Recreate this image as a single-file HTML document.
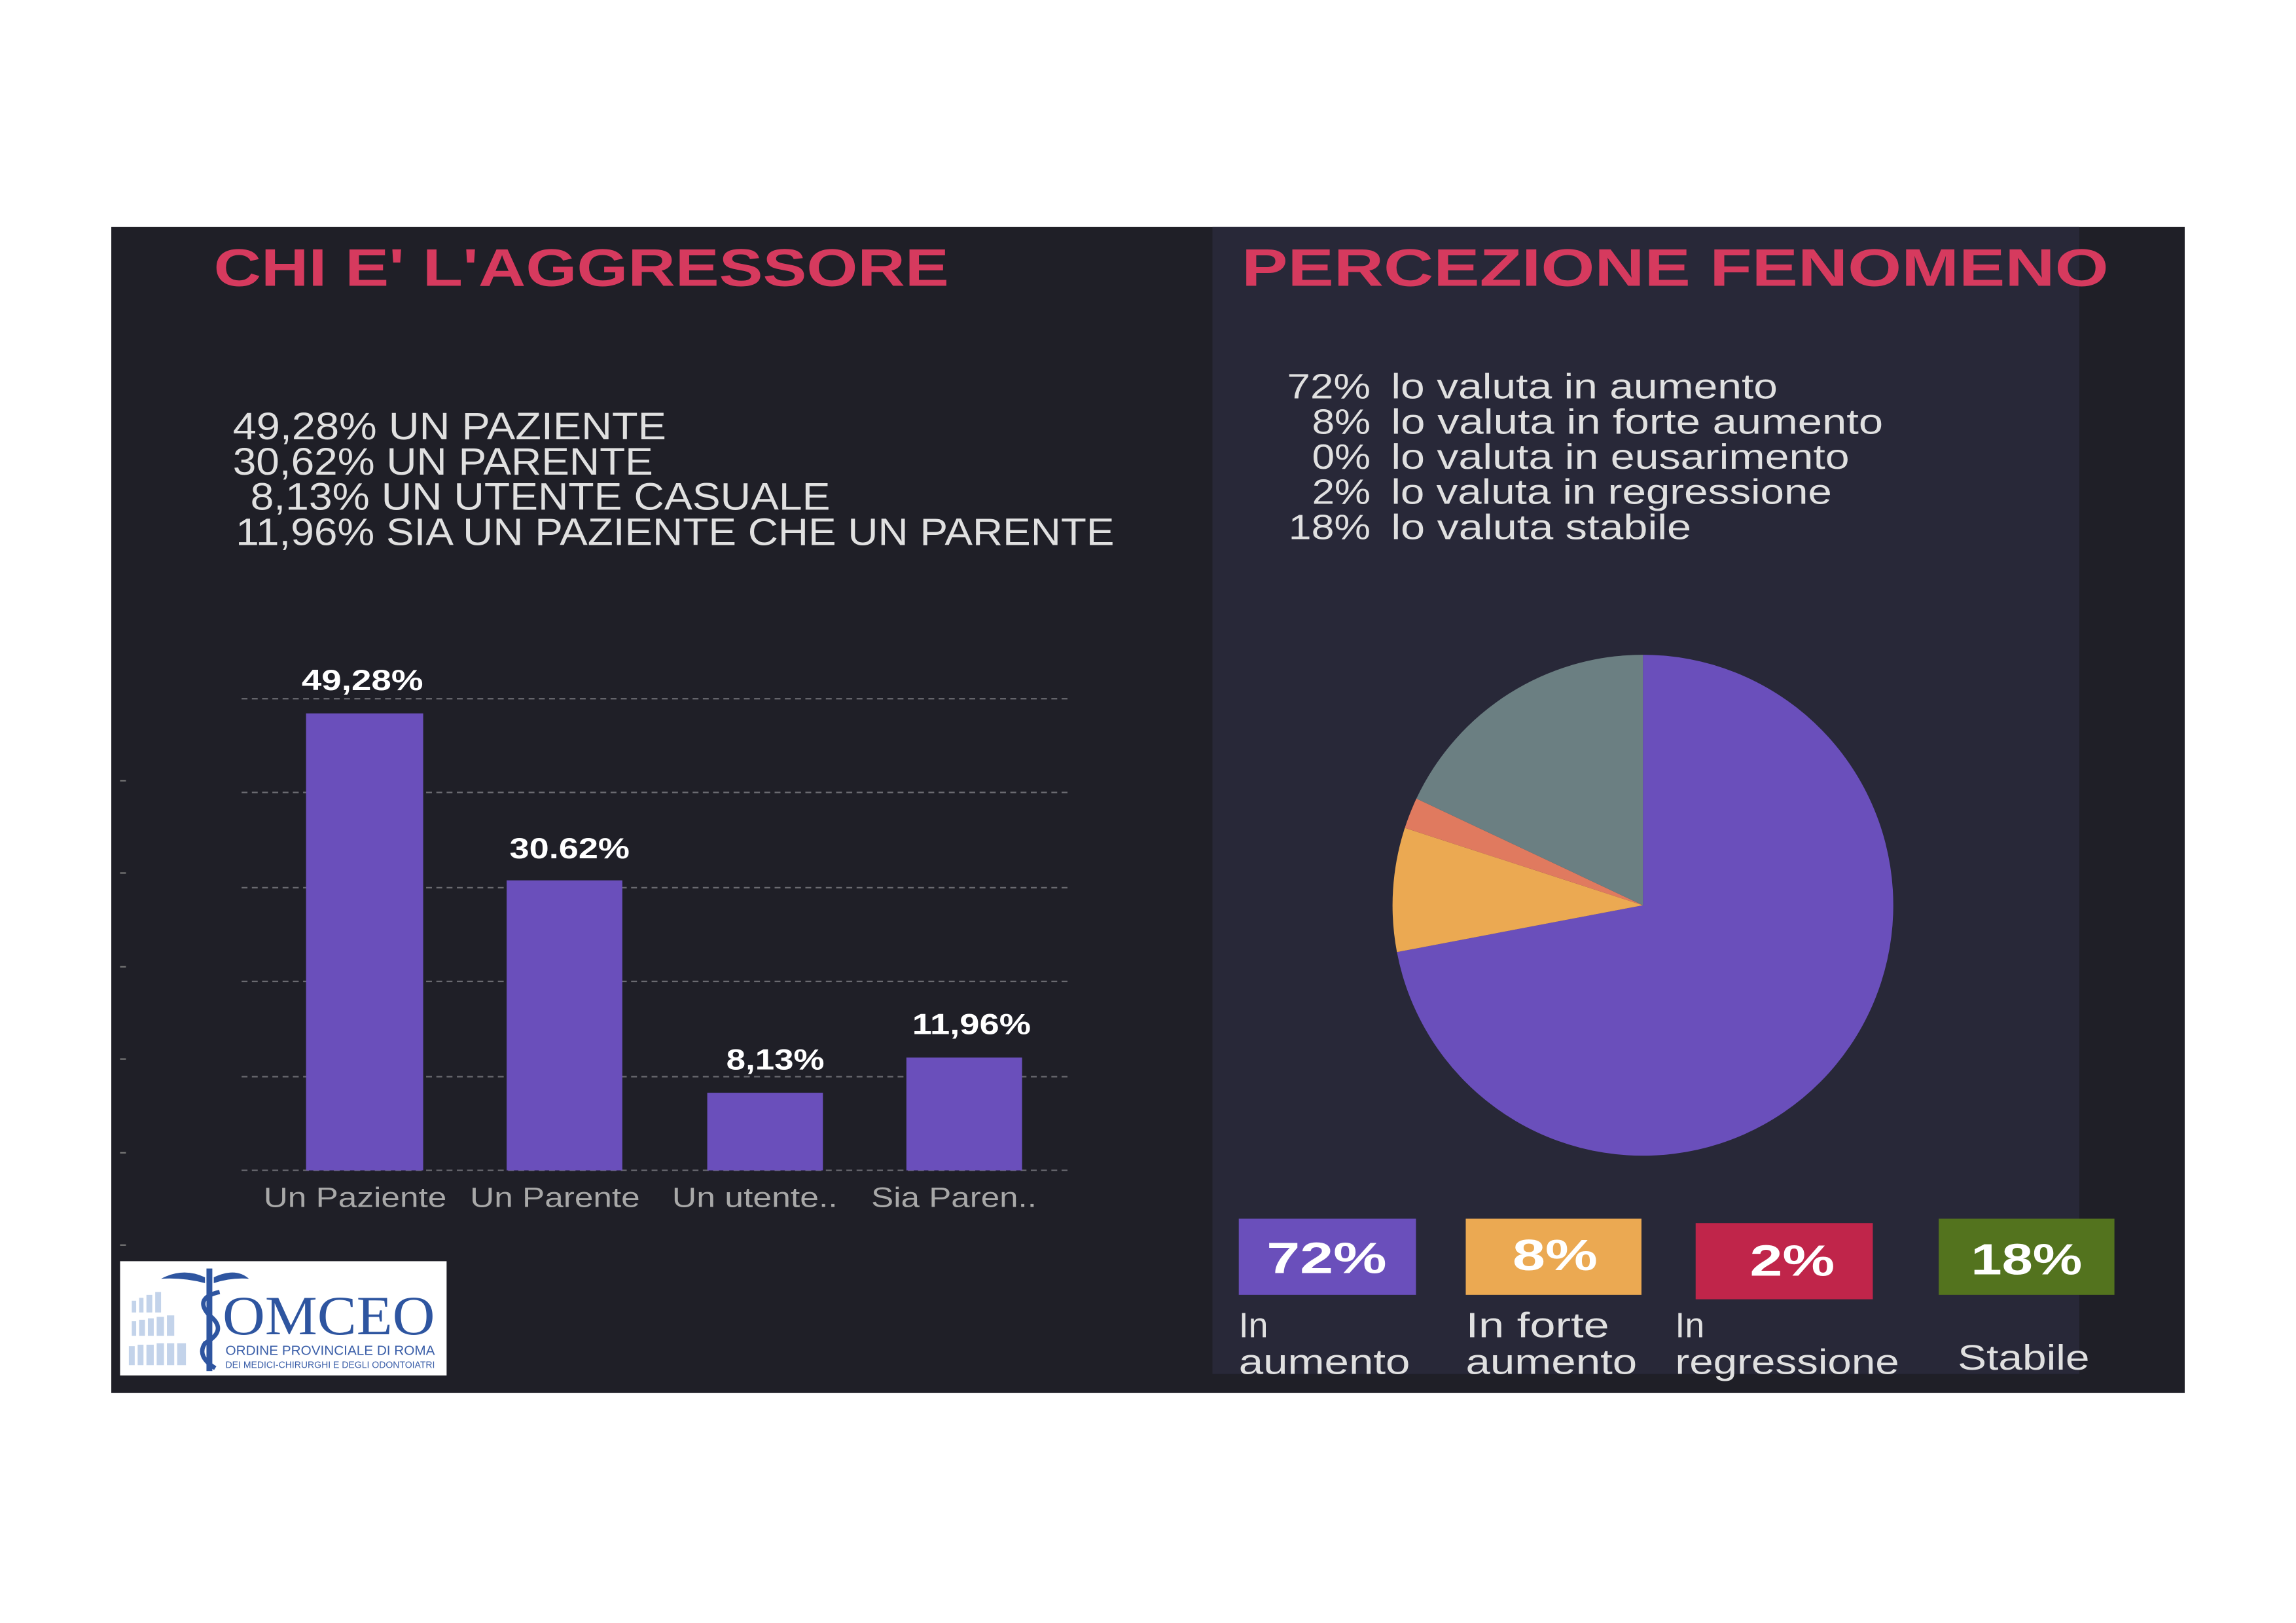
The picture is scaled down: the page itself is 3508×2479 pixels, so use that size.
<!DOCTYPE html>
<html><head><meta charset="utf-8"><style>html,body{margin:0;padding:0;background:#fff}svg{display:block}</style></head>
<body>
<svg width="3508" height="2479" viewBox="0 0 1568 1108" preserveAspectRatio="none" xmlns="http://www.w3.org/2000/svg" font-family="Liberation Sans, sans-serif">
<rect width="1568" height="1108" fill="#fff"/>
<rect x="76" y="155" width="1416" height="796" fill="#1f1f27"/>
<rect x="828" y="155" width="592" height="783" fill="#282838"/>
<text x="146" y="195" font-size="36" font-weight="bold" fill="#d63a5e" textLength="502" lengthAdjust="spacingAndGlyphs">CHI E' L'AGGRESSORE</text>
<text x="848" y="195" font-size="36" font-weight="bold" fill="#d63a5e" textLength="592" lengthAdjust="spacingAndGlyphs">PERCEZIONE FENOMENO</text>
<g font-size="26" fill="#e0e0e0">
<text x="159" y="300" textLength="296" lengthAdjust="spacingAndGlyphs">49,28% UN PAZIENTE</text>
<text x="159" y="324" textLength="287" lengthAdjust="spacingAndGlyphs">30,62% UN PARENTE</text>
<text x="171" y="348" textLength="396" lengthAdjust="spacingAndGlyphs">8,13%  UN UTENTE CASUALE</text>
<text x="161" y="372" textLength="600" lengthAdjust="spacingAndGlyphs">11,96% SIA UN PAZIENTE CHE UN PARENTE</text>
</g>
<g stroke="#6a6a70" stroke-width="1" stroke-dasharray="4,3">
<line x1="165" y1="477" x2="732" y2="477"/><line x1="165" y1="541" x2="732" y2="541"/>
<line x1="165" y1="606" x2="732" y2="606"/><line x1="165" y1="670" x2="732" y2="670"/>
<line x1="165" y1="735" x2="732" y2="735"/><line x1="165" y1="799" x2="732" y2="799"/>
</g>
<g stroke="#777" stroke-width="1">
<line x1="82" y1="533" x2="86" y2="533"/><line x1="82" y1="596" x2="86" y2="596"/><line x1="82" y1="660" x2="86" y2="660"/><line x1="82" y1="723" x2="86" y2="723"/><line x1="82" y1="787" x2="86" y2="787"/><line x1="82" y1="850" x2="86" y2="850"/>
</g>
<g fill="#6a4fbb">
<rect x="209" y="487" width="80" height="312"/>
<rect x="346" y="601" width="79" height="198"/>
<rect x="483" y="746" width="79" height="53"/>
<rect x="619" y="722" width="79" height="77"/>
</g>
<g font-size="20" font-weight="bold" fill="#fff">
<text x="206" y="471" textLength="83" lengthAdjust="spacingAndGlyphs">49,28%</text>
<text x="348" y="586" textLength="82" lengthAdjust="spacingAndGlyphs">30.62%</text>
<text x="496" y="730" textLength="67" lengthAdjust="spacingAndGlyphs">8,13%</text>
<text x="623" y="706" textLength="81" lengthAdjust="spacingAndGlyphs">11,96%</text>
</g>
<g font-size="19" fill="#a8a8a8">
<text x="180" y="824" textLength="125" lengthAdjust="spacingAndGlyphs">Un Paziente</text>
<text x="321" y="824" textLength="116" lengthAdjust="spacingAndGlyphs">Un Parente</text>
<text x="459" y="824" textLength="113" lengthAdjust="spacingAndGlyphs">Un utente..</text>
<text x="595" y="824" textLength="113" lengthAdjust="spacingAndGlyphs">Sia Paren..</text>
</g>
<rect x="82" y="861" width="223" height="78" fill="#fff"/>
<g fill="#c3d3ea"><rect x="90" y="888" width="3" height="8"/><rect x="95" y="886" width="3" height="10"/><rect x="100" y="884" width="4" height="12"/><rect x="106" y="882" width="4" height="14"/>
<rect x="90" y="902" width="3" height="10"/><rect x="95" y="901" width="4" height="11"/><rect x="101" y="900" width="4" height="12"/><rect x="107" y="899" width="5" height="13"/><rect x="114" y="898" width="5" height="14"/>
<rect x="88" y="919" width="4" height="13"/><rect x="94" y="918" width="4" height="14"/><rect x="100" y="918" width="5" height="14"/><rect x="107" y="917" width="5" height="15"/><rect x="114" y="917" width="5" height="15"/><rect x="121" y="917" width="6" height="15"/></g>
<path d="M110 873 Q125 865 140 872 L140 876 Q125 872 110 873Z M146 872 Q161 865 170 873 Q158 872 146 876Z" fill="#2e55a0"/>
<rect x="141" y="866" width="4" height="70" fill="#2e55a0"/>
<path d="M150 882 Q132 886 143 898 Q156 908 140 917 Q134 926 147 934" stroke="#2e55a0" stroke-width="3" fill="none"/>
<text x="152" y="911" font-family="Liberation Serif, serif" font-size="38" fill="#2e55a0" textLength="145" lengthAdjust="spacingAndGlyphs">OMCEO</text>
<text x="154" y="925" font-size="9" fill="#3a5ea8" textLength="143" lengthAdjust="spacingAndGlyphs">ORDINE PROVINCIALE DI ROMA</text>
<text x="154" y="934" font-size="6.5" fill="#3a5ea8" textLength="143" lengthAdjust="spacingAndGlyphs">DEI MEDICI-CHIRURGHI E DEGLI ODONTOIATRI</text>
<g font-size="24" fill="#e0e0e0">
<text x="879" y="272" textLength="57" lengthAdjust="spacingAndGlyphs">72%</text>
<text x="896" y="296" textLength="40" lengthAdjust="spacingAndGlyphs">8%</text>
<text x="896" y="320" textLength="40" lengthAdjust="spacingAndGlyphs">0%</text>
<text x="896" y="344" textLength="40" lengthAdjust="spacingAndGlyphs">2%</text>
<text x="880" y="368" textLength="56" lengthAdjust="spacingAndGlyphs">18%</text>
<text x="950" y="272" textLength="264" lengthAdjust="spacingAndGlyphs">lo valuta in aumento</text>
<text x="950" y="296" textLength="336" lengthAdjust="spacingAndGlyphs">lo valuta in forte aumento</text>
<text x="950" y="320" textLength="313" lengthAdjust="spacingAndGlyphs">lo valuta in eusarimento</text>
<text x="950" y="344" textLength="301" lengthAdjust="spacingAndGlyphs">lo valuta in regressione</text>
<text x="950" y="368" textLength="205" lengthAdjust="spacingAndGlyphs">lo valuta stabile</text>
</g>
<path d="M1122 618 L1122 447 A171 171 0 1 1 954 650 Z" fill="#6a4fbb"/>
<path d="M1122 618 L954 650 A171 171 0 0 1 959.4 565.2 Z" fill="#eba952"/>
<path d="M1122 618 L959.4 565.2 A171 171 0 0 1 967.3 545.2 Z" fill="#e07a5f"/>
<path d="M1122 618 L967.3 545.2 A171 171 0 0 1 1122 447 Z" fill="#6b7f82"/>
<rect x="846" y="832" width="121" height="52" fill="#6a4fbb"/>
<rect x="1001" y="832" width="120" height="52" fill="#eba952"/>
<rect x="1158" y="835" width="121" height="52" fill="#c0254a"/>
<rect x="1324" y="832" width="120" height="52" fill="#53731e"/>
<g font-size="30" font-weight="bold" fill="#fff">
<text x="865" y="869" textLength="82" lengthAdjust="spacingAndGlyphs">72%</text>
<text x="1033" y="867" textLength="58" lengthAdjust="spacingAndGlyphs">8%</text>
<text x="1195" y="871" textLength="58" lengthAdjust="spacingAndGlyphs">2%</text>
<text x="1346" y="870" textLength="76" lengthAdjust="spacingAndGlyphs">18%</text>
</g>
<g font-size="24" fill="#e0e0e0">
<text x="846" y="913">In</text><text x="846" y="938" textLength="117" lengthAdjust="spacingAndGlyphs">aumento</text>
<text x="1001" y="913" textLength="98" lengthAdjust="spacingAndGlyphs">In forte</text><text x="1001" y="938" textLength="117" lengthAdjust="spacingAndGlyphs">aumento</text>
<text x="1144" y="913">In</text><text x="1144" y="938" textLength="153" lengthAdjust="spacingAndGlyphs">regressione</text>
<text x="1337" y="935" textLength="90" lengthAdjust="spacingAndGlyphs">Stabile</text>
</g>
</svg>
</body></html>
